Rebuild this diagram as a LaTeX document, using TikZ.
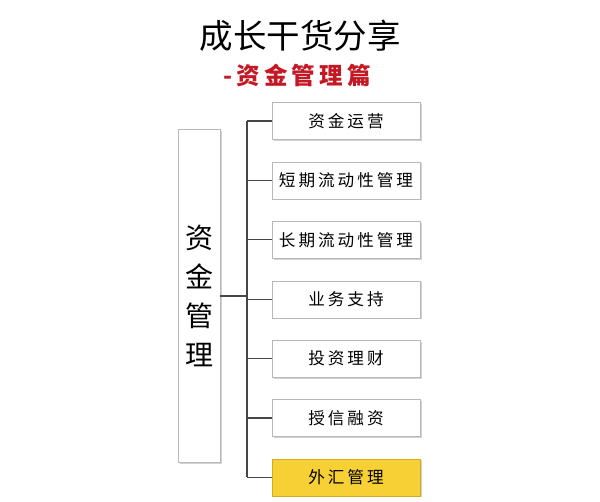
\documentclass[tikz,border=0pt]{standalone}
\usepackage{fontspec}
\usepackage{tikz}
\usetikzlibrary{positioning,shadows}
\newfontfamily\cjk{Noto Sans CJK SC}
\newfontfamily\cjkwide[LetterSpace=18]{Noto Sans CJK SC}
\definecolor{subred}{RGB}{196,24,36}
\definecolor{gold}{RGB}{246,208,52}
\definecolor{goldedge}{RGB}{214,170,30}
\definecolor{linegray}{RGB}{70,70,70}

\begin{document}
\begin{tikzpicture}[x=1pt,y=-1pt,node distance=22pt,
  item/.style={rectangle,fill=white,draw=black!28,minimum width=148pt,minimum height=37pt,
    drop shadow={opacity=0.35,shadow xshift=1.5pt,shadow yshift=-1.5pt},
    font=\cjkwide\fontsize{16.6}{18}\selectfont},
  hot/.style={item,fill=gold,draw=goldedge},
  link/.style={draw=linegray,line width=1.1pt}]
  \useasboundingbox[fill=white] (0,0) rectangle (600,501);

  \node[font=\cjk\fontsize{33.5}{36}\selectfont] (title) at (300,36) {成长干货分享};
  \node[font=\cjkwide\bfseries\fontsize{23.5}{26}\selectfont,text=subred] (sub) at (297,75) {-资金管理篇};

  \node[item,minimum width=42pt,minimum height=333pt,align=center,
    font=\cjk\fontsize{28}{39}\selectfont] (0) at (199,296) {资\\金\\管\\理};

  \node[item] (1) at (346,121) {资金运营};
  \node[item] (2) [below=of 1] {短期流动性管理};
  \node[item] (3) [below=of 2] {长期流动性管理};
  \node[item] (4) [below=of 3] {业务支持};
  \node[item] (5) [below=of 4] {投资理财};
  \node[item] (6) [below=of 5] {授信融资};
  \node[hot] (7) [below=of 6] {外汇管理};

  \coordinate (bus) at (247,0);
  \draw[link] (1.west -| bus) -- (7.west -| bus);
  \draw[link] (0.east) -- (0.east -| bus);
  \foreach \i in {1,...,7}
    \draw[link] (\i.west) -- (\i.west -| bus);
\end{tikzpicture}
\end{document}
